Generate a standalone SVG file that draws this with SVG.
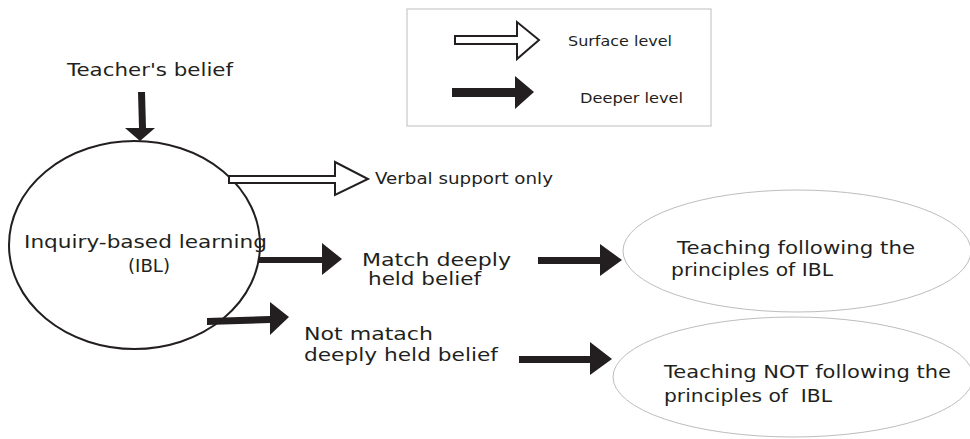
<svg xmlns="http://www.w3.org/2000/svg" width="970" height="439" viewBox="0 0 970 439">
<style>
text{font-family:"DejaVu Sans","Liberation Sans",sans-serif;fill:#231f20}
.t18{font-size:18px}
.t15{font-size:15px}
.t14{font-size:14px}
.solid{fill:#231f20;stroke:none}
.hollow{fill:#fff;stroke:#231f20;stroke-width:2;stroke-linejoin:miter}
.oval{fill:none;stroke:#bdbdbd;stroke-width:1}
</style>
<rect width="970" height="439" fill="#fff"/>
<g id="legend">
<rect x="407" y="9" width="304" height="117" fill="#fff" stroke="#c8c8c8" stroke-width="1.2"/>
<polygon class="hollow" points="455,36 517,36 517,22 539,40 517,59 517,44 455,44"/>
<text class="t14" x="568" y="46" textLength="104" lengthAdjust="spacingAndGlyphs">Surface level</text>
<polygon class="solid" points="452,88 515,88 515,76 534,92 515,109 515,97 452,97"/>
<text class="t14" x="580" y="103" textLength="103" lengthAdjust="spacingAndGlyphs">Deeper level</text>
</g>
<g id="teacher-belief">
<text class="t18" x="67" y="76" textLength="166" lengthAdjust="spacingAndGlyphs">Teacher's belief</text>
</g>
<g id="ibl">
<ellipse cx="134.5" cy="245" rx="125.5" ry="104" fill="none" stroke="#231f20" stroke-width="2"/>
<text class="t18" x="24" y="248" textLength="243" lengthAdjust="spacingAndGlyphs">Inquiry-based learning</text>
<text class="t18" x="128" y="272" textLength="42" lengthAdjust="spacingAndGlyphs">(IBL)</text>
</g>
<g id="verbal">
<text class="t15" x="375" y="184" textLength="178" lengthAdjust="spacingAndGlyphs">Verbal support only</text>
</g>
<g id="match">
<text class="t18" x="362" y="266" textLength="149" lengthAdjust="spacingAndGlyphs">Match deeply</text>
<text class="t18" x="368" y="285" textLength="113" lengthAdjust="spacingAndGlyphs">held belief</text>
</g>
<g id="not-match">
<text class="t18" x="304" y="340" textLength="129" lengthAdjust="spacingAndGlyphs">Not matach</text>
<text class="t18" x="304" y="361" textLength="194" lengthAdjust="spacingAndGlyphs">deeply held belief</text>
</g>
<g id="teaching-following">
<ellipse class="oval" cx="797" cy="251" rx="174" ry="61"/>
<text class="t18" x="677" y="254" textLength="238" lengthAdjust="spacingAndGlyphs">Teaching following the</text>
<text class="t18" x="671" y="276" textLength="162" lengthAdjust="spacingAndGlyphs">principles of IBL</text>
</g>
<g id="teaching-not-following">
<ellipse class="oval" cx="793" cy="377" rx="180" ry="60"/>
<text class="t18" x="664" y="378" textLength="287" lengthAdjust="spacingAndGlyphs">Teaching NOT following the</text>
<text class="t18" x="664" y="402" textLength="168" lengthAdjust="spacingAndGlyphs" xml:space="preserve">principles of  IBL</text>
</g>
<g id="connectors">
<polygon class="solid" points="138,92 145,92 146,128 155,128 140,141 125,128 139,128"/>
<polygon class="hollow" points="229,176 335,176 335,162 368,179 335,195 335,183 229,183"/>
<polygon class="solid" points="258,257 322,257 322,243 342,259 322,275 322,263 258,263"/>
<polygon class="solid" points="538,257 600,257 600,244 622,260 600,276 600,264 538,264"/>
<polygon class="solid" points="207,318 270,316 270,302 289,317 270,335 270,323 207,325"/>
<polygon class="solid" points="519,356 590,356 590,342 612,359 590,375 590,363 519,363"/>
</g>
</svg>
